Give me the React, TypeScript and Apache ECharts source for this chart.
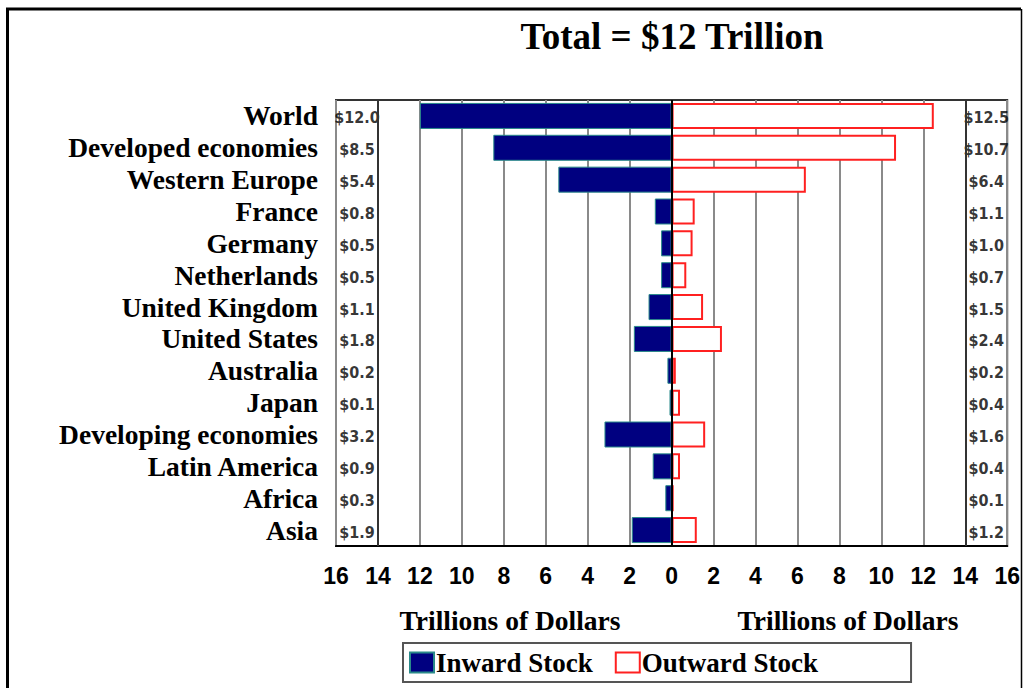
import React, { useEffect, useRef } from "react";
import * as echarts from "echarts";

const categories = [
  "World",
  "Developed economies",
  "Western Europe",
  "France",
  "Germany",
  "Netherlands",
  "United Kingdom",
  "United States",
  "Australia",
  "Japan",
  "Developing economies",
  "Latin America",
  "Africa",
  "Asia",
];
const inward = [12.0, 8.5, 5.4, 0.8, 0.5, 0.5, 1.1, 1.8, 0.2, 0.1, 3.2, 0.9, 0.3, 1.9];
const outward = [12.5, 10.7, 6.4, 1.1, 1.0, 0.7, 1.5, 2.4, 0.2, 0.4, 1.6, 0.4, 0.1, 1.2];
const titleText = "Total = $12 Trillion";
const axisTitle = "Trillions of Dollars";

const SERIF = "'Liberation Serif', 'Times New Roman', serif";
const NARROW = "'Liberation Sans Narrow', 'DejaVu Sans Condensed', 'Arial Narrow', sans-serif";
const SANS = "'Liberation Sans', Arial, sans-serif";

export default function App() {
  const ref = useRef<HTMLDivElement>(null);
  useEffect(() => {
    if (!ref.current) return;
    const chart = echarts.init(ref.current, undefined, { renderer: "svg" });
    const labelStyle = {
      show: true,
      position: "inside" as const,
      fontFamily: NARROW,
      fontWeight: "bold" as const,
      fontSize: 16,
      color: "#000",
      offset: [0, 2],
    };
    chart.setOption({
      animation: false,
      backgroundColor: "#fff",
      title: [
        {
          text: titleText,
          left: 667,
          top: 13,
          textAlign: "center",
          textStyle: { fontFamily: SERIF, fontWeight: "bold", fontSize: 37, color: "#000" },
        },
        {
          text: axisTitle,
          left: 505,
          top: 601,
          textAlign: "center",
          textStyle: { fontFamily: SERIF, fontWeight: "bold", fontSize: 27.5, color: "#000" },
        },
        {
          text: axisTitle,
          left: 843,
          top: 601,
          textAlign: "center",
          textStyle: { fontFamily: SERIF, fontWeight: "bold", fontSize: 27.5, color: "#000" },
        },
      ],
      legend: {
        left: 403,
        top: 643,
        padding: [6, 93, 6, 6],
        borderColor: "#555",
        borderWidth: 2,
        itemGap: 22,
        itemWidth: 24,
        itemHeight: 20,
        icon: "rect",
        data: ["Inward Stock", "Outward Stock"],
        textStyle: { fontFamily: SERIF, fontWeight: "bold", fontSize: 27, color: "#000", padding: [0, 0, 0, -3] },
      },
      graphic: [
        {
          type: "polyline",
          shape: { points: [[7.5, 700], [7.5, 9], [1021, 9]] },
          style: { stroke: "#000", lineWidth: 3, fill: null },
          silent: true,
        },
        {
          type: "line",
          shape: { x1: 1021.5, y1: 9, x2: 1021.5, y2: 700 },
          style: { stroke: "#000", lineWidth: 1.5 },
          silent: true,
        },
      ],
      grid: {
        left: 336,
        right: 13,
        top: 100,
        bottom: 142,
        containLabel: false,
        show: true,
        borderColor: "#333",
        borderWidth: 2,
      },
      xAxis: {
        type: "value",
        min: -16,
        max: 16,
        interval: 2,
        axisLine: { show: true, lineStyle: { color: "#000", width: 2 } },
        axisTick: { show: false },
        axisLabel: {
          formatter: (v: number) => String(Math.abs(v)),
          fontFamily: SANS,
          fontWeight: "bold",
          fontSize: 23,
          color: "#000",
          margin: 18,
        },
        splitLine: { show: true, lineStyle: { color: "#8a8a8a", width: 2 } },
      },
      yAxis: {
        type: "category",
        data: categories,
        inverse: true,
        axisLine: { show: false },
        axisTick: { show: false },
        axisLabel: {
          interval: 0,
          fontFamily: SERIF,
          fontWeight: "bold",
          fontSize: 27.5,
          color: "#000",
          margin: 18,
        },
        splitLine: { show: false },
      },
      series: [
        {
          name: "Inward Stock",
          type: "bar",
          data: inward.map((v) => -v),
          barWidth: 26,
          barGap: "-100%",
          itemStyle: { color: "#000080", borderColor: "#2a8a8a", borderWidth: 1 },
          markLine: {
            silent: true,
            symbol: "none",
            label: { show: false },
            lineStyle: { color: "#000", width: 2, type: "solid" },
            data: [{ xAxis: 0 }],
          },
        },
        {
          name: "Outward Stock",
          type: "bar",
          data: outward,
          barWidth: 26,
          barGap: "-100%",
          itemStyle: { color: "#fff", borderColor: "#ff2020", borderWidth: 2 },
        },
        {
          type: "scatter",
          symbolSize: 0,
          silent: true,
          data: inward.map((v, i) => [-15, i, v]),
          label: { ...labelStyle, formatter: (p: any) => "$" + p.value[2].toFixed(1) },
        },
        {
          type: "scatter",
          symbolSize: 0,
          silent: true,
          data: outward.map((v, i) => [15, i, v]),
          label: { ...labelStyle, formatter: (p: any) => "$" + p.value[2].toFixed(1) },
        },
        {
          type: "line",
          silent: true,
          symbol: "none",
          data: [],
          markLine: {
            silent: true,
            symbol: "none",
            label: { show: false },
            lineStyle: { color: "#333", width: 2, type: "solid" },
            data: [{ xAxis: -14 }, { xAxis: 14 }],
          },
        },
      ],
    });
    return () => chart.dispose();
  }, []);
  return (
    <div
      ref={ref}
      style={{ position: "fixed", left: 0, top: 0, width: 1023, height: 688 }}
    />
  );
}
